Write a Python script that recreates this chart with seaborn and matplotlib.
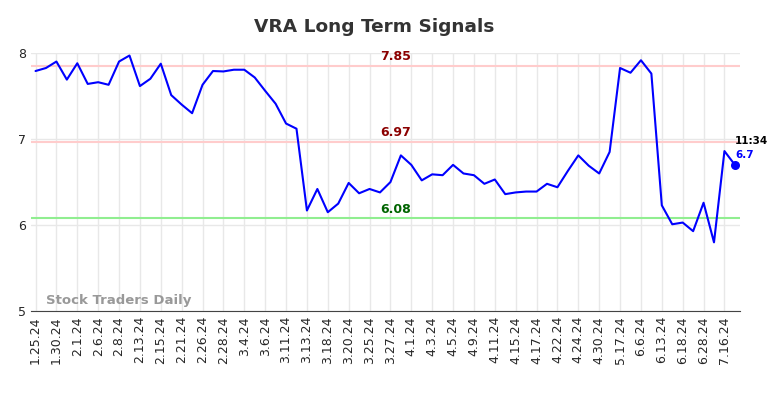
import seaborn as sns
import matplotlib.pyplot as plt
import pandas as pd
import numpy as np

dates = [
    "1.25.24", "1.29.24", "1.30.24", "1.31.24", "2.1.24", "2.5.24", "2.6.24", "2.7.24",
    "2.8.24", "2.9.24", "2.13.24", "2.14.24", "2.15.24", "2.16.24", "2.21.24", "2.22.24",
    "2.26.24", "2.27.24", "2.28.24", "2.29.24", "3.4.24", "3.5.24", "3.6.24", "3.7.24",
    "3.11.24", "3.12.24", "3.13.24", "3.14.24", "3.18.24", "3.19.24", "3.20.24", "3.21.24",
    "3.25.24", "3.26.24", "3.27.24", "3.28.24", "4.1.24", "4.2.24", "4.3.24", "4.4.24",
    "4.5.24", "4.8.24", "4.9.24", "4.10.24", "4.11.24", "4.12.24", "4.15.24", "4.16.24",
    "4.17.24", "4.18.24", "4.22.24", "4.23.24", "4.24.24", "4.25.24", "4.30.24", "5.1.24",
    "5.17.24", "5.20.24", "6.6.24", "6.7.24", "6.13.24", "6.14.24", "6.18.24", "6.20.24",
    "6.28.24", "7.1.24", "7.16.24", "7.17.24",
]
prices = [
    7.79, 7.825, 7.90, 7.69, 7.88, 7.64, 7.66, 7.63, 7.90, 7.97,
    7.615, 7.70, 7.875, 7.51, 7.40, 7.30, 7.63, 7.79, 7.785, 7.805,
    7.805, 7.715, 7.56, 7.41, 7.18, 7.12, 6.17, 6.42, 6.15, 6.25,
    6.49, 6.37, 6.42, 6.38, 6.50, 6.81, 6.70, 6.52, 6.59, 6.58,
    6.70, 6.60, 6.58, 6.48, 6.53, 6.36, 6.38, 6.39, 6.39, 6.48,
    6.44, 6.63, 6.81, 6.69, 6.60, 6.85, 7.825, 7.77, 7.915, 7.76,
    6.23, 6.01, 6.03, 5.93, 6.26, 5.80, 6.86, 6.70,
]
resistance_levels = [7.85, 6.97]
support_level = 6.08
last_time = "11:34"

df = pd.DataFrame({"idx": np.arange(len(prices)), "price": prices})

sns.set_style("white")
fig, ax = plt.subplots(figsize=(7.84, 3.98), dpi=100)
fig.subplots_adjust(left=0.04, right=0.944, top=0.867, bottom=0.218)

# level labels sit roughly mid-chart
label_x = 34.5
for lvl in resistance_levels:
    ax.axhline(lvl, color="#ffcccc", lw=1.5, zorder=1)
    ax.text(label_x, lvl + 0.03, f"{lvl:.2f}", color="#8b0000",
            fontsize=9, fontweight="bold", ha="center", va="bottom")
ax.axhline(support_level, color="#90ee90", lw=1.5, zorder=1)
ax.text(label_x, support_level + 0.03, f"{support_level:.2f}", color="#006400",
        fontsize=9, fontweight="bold", ha="center", va="bottom")

sns.lineplot(data=df, x="idx", y="price", color="blue", lw=1.5, ax=ax, zorder=3)
ax.scatter([df["idx"].iloc[-1]], [df["price"].iloc[-1]], color="blue", s=30, zorder=4)
ax.text(df["idx"].iloc[-1], df["price"].iloc[-1] + 0.22, last_time,
        fontsize=7.5, fontweight="bold", color="black", ha="left", va="bottom")
ax.text(df["idx"].iloc[-1], df["price"].iloc[-1] + 0.06, f"{df['price'].iloc[-1]:.1f}",
        fontsize=7.5, fontweight="bold", color="blue", ha="left", va="bottom")

ax.text(1, 5.08, "Stock Traders Daily", fontsize=9.5, fontweight="bold", color="#999999")

ticks = list(range(0, len(dates), 2))
ax.set_xticks(ticks)
ax.set_xticklabels([dates[i] for i in ticks], rotation=90, fontsize=9)
ax.set_yticks([5, 6, 7, 8])
ax.tick_params(axis="y", labelsize=9, length=0)
ax.tick_params(axis="x", length=0)
ax.set_xlim(-0.4, len(prices) - 0.5)
ax.set_ylim(5, 8)
ax.grid(True, color="#e8e8e8", lw=1)
for s in ["top", "right", "left"]:
    ax.spines[s].set_visible(False)
ax.spines["bottom"].set_color("#444444")
ax.set_xlabel("")
ax.set_ylabel("")
fig.suptitle("VRA Long Term Signals", fontsize=13.3, fontweight="bold", color="#333333",
             x=0.477, y=0.955)

fig.savefig("out.png", dpi=100)
